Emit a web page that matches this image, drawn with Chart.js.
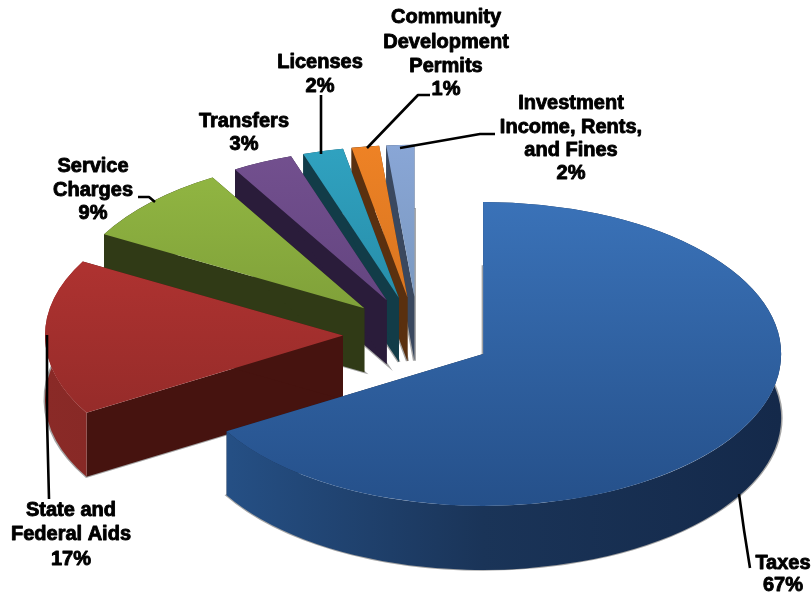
<!DOCTYPE html>
<html>
<head>
<meta charset="utf-8">
<title>Revenue by source</title>
<script src="https://cdn.jsdelivr.net/npm/chart.js@4"></script>
<style>
  html, body { margin: 0; padding: 0; background: #fff; }
  #revenuePie { display: block; filter: blur(0.6px); }
</style>
</head>
<body>
<canvas id="revenuePie" width="812" height="597"></canvas>
<script>
const categories = ['Taxes', 'State and Federal Aids', 'Service Charges', 'Transfers', 'Licenses', 'Community Development Permits', 'Investment Income, Rents, and Fines'];
const shares = [66.5, 16.6, 8.4, 3.3, 2.2, 1.49, 1.51];
const shareLabels = ['67%', '17%', '9%', '3%', '2%', '1%', '2%'];

// slice colours: top surface (far edge, near edge), radial faces, rim (left, middle, right)
const topFar = ['#3a72b8', '#bb3634', '#93b843', '#73508f', '#30a2c0', '#ee8225', '#89a6d6'];
const topNear = ['#25508a', '#8a2826', '#6d8a30', '#553a72', '#1f7a94', '#c4691c', '#6d8cab'];
const faceColors = ['#14253f', '#46130f', '#303a16', '#2a1c3a', '#123c48', '#5a300f', '#3a485f'];
const rimLeft = ['#27548c', '#8a2a27', '#303a16', '#2a1c3a', '#123c48', '#5a300f', '#3a485f'];
const rimMid = ['#1a3458', '#7a2420', '#303a16', '#2a1c3a', '#123c48', '#5a300f', '#3a485f'];
const rimRight = ['#14294a', '#46130f', '#303a16', '#2a1c3a', '#123c48', '#5a300f', '#3a485f'];

// where the tilted pie sits on the page
const PIE_X = 418;
const PIE_Y = 335;
const TILT = 0.51;
const DEPTH = 64;
const RADIUS = 298;
const EXPLODE = 75;

// label text lines, centre x, y of each line
const labelBlocks = [
  { lines: ['Taxes', shareLabels[0]], x: 783, ys: [563, 585] },
  { lines: ['State and', 'Federal Aids', shareLabels[1]], x: 71, ys: [510, 534, 559] },
  { lines: ['Service', 'Charges', shareLabels[2]], x: 93, ys: [166, 190, 213] },
  { lines: ['Transfers', shareLabels[3]], x: 244, ys: [121, 144] },
  { lines: ['Licenses', shareLabels[4]], x: 320, ys: [62, 86] },
  { lines: ['Community', 'Development', 'Permits', shareLabels[5]], x: 446, ys: [17, 42, 66, 89] },
  { lines: ['Investment', 'Income, Rents,', 'and Fines', shareLabels[6]], x: 571, ys: [103, 127, 150, 173] }
];

const leaderLines = [
  [[739, 494], [744, 530], [750, 568]],
  [[47, 335], [47, 419], [49, 499]],
  [[138, 197], [149, 197], [155, 202]],
  [[321, 95], [321, 154]],
  [[430, 95], [418, 95], [367, 148]],
  [[495, 134], [480, 134], [400, 148]]
];

// side walls of one slice, drawn in the already shifted and squashed space
function drawWall(ctx, arc, i) {
  const { x, y, startAngle, endAngle, outerRadius: r } = arc;
  const d = DEPTH / TILT;

  // grey fringe along the underside, the walls cover all but its outer half
  ctx.strokeStyle = 'rgba(125,125,125,0.7)';
  ctx.lineWidth = 3;
  ctx.beginPath();
  ctx.moveTo(x, y + d);
  ctx.arc(x, y + d, r, startAngle, endAngle);
  ctx.closePath();
  ctx.stroke();

  // the two straight cut faces
  ctx.fillStyle = faceColors[i];
  [startAngle, endAngle].forEach((a) => {
    const ex = x + Math.cos(a) * r;
    const ey = y + Math.sin(a) * r;
    ctx.beginPath();
    ctx.moveTo(x, y);
    ctx.lineTo(ex, ey);
    ctx.lineTo(ex, ey + d);
    ctx.lineTo(x, y + d);
    ctx.closePath();
    ctx.fill();
  });

  // curved rim
  const grad = ctx.createLinearGradient(x - r, 0, x + r, 0);
  grad.addColorStop(0, rimLeft[i]);
  grad.addColorStop(0.5, rimMid[i]);
  grad.addColorStop(1, rimRight[i]);
  ctx.fillStyle = grad;
  ctx.beginPath();
  ctx.arc(x, y, r, startAngle, endAngle);
  ctx.arc(x, y + d, r, endAngle, startAngle, true);
  ctx.closePath();
  ctx.fill();
}

const tiltedPie = {
  id: 'tiltedPie',
  beforeDatasetDraw(chart, args) {
    const ctx = chart.ctx;
    const arcs = args.meta.data;
    ctx.save();
    ctx.translate(PIE_X, PIE_Y);
    ctx.scale(1, TILT);
    ctx.translate(-arcs[0].x, -arcs[0].y);
    // back slices first, taxes last
    for (let i = arcs.length - 1; i >= 0; i--) {
      const mid = (arcs[i].startAngle + arcs[i].endAngle) / 2;
      ctx.save();
      ctx.translate(Math.cos(mid) * EXPLODE, Math.sin(mid) * EXPLODE);
      drawWall(ctx, arcs[i], i);
      arcs[i].draw(ctx);
      ctx.restore();
    }
    ctx.restore();
    return false;
  }
};

const pieLabels = {
  id: 'pieLabels',
  afterDraw(chart) {
    const ctx = chart.ctx;
    ctx.save();
    ctx.strokeStyle = '#000';
    ctx.lineWidth = 2.6;
    ctx.lineJoin = 'round';
    leaderLines.forEach((pts) => {
      ctx.beginPath();
      pts.forEach((p, n) => n ? ctx.lineTo(p[0], p[1]) : ctx.moveTo(p[0], p[1]));
      ctx.stroke();
    });
    ctx.font = 'bold 20px "Liberation Sans", Arial, sans-serif';
    ctx.textAlign = 'center';
    ctx.textBaseline = 'middle';
    ctx.fillStyle = '#000';
    ctx.lineWidth = 0.9;
    labelBlocks.forEach((b) => {
      b.lines.forEach((line, n) => {
        ctx.fillText(line, b.x, b.ys[n]);
        ctx.strokeText(line, b.x, b.ys[n]);
      });
    });
    ctx.restore();
  }
};

new Chart(document.getElementById('revenuePie'), {
  type: 'pie',
  data: {
    labels: categories,
    datasets: [{
      data: shares,
      radius: RADIUS,
      borderWidth: 0,
      clip: false,
      backgroundColor(c) {
        const y = c.chart.chartArea ? (c.chart.chartArea.top + c.chart.chartArea.bottom) / 2 : 298;
        const g = c.chart.ctx.createLinearGradient(0, y - RADIUS, 0, y + RADIUS);
        g.addColorStop(0, topFar[c.dataIndex]);
        g.addColorStop(1, topNear[c.dataIndex]);
        return g;
      }
    }]
  },
  options: {
    responsive: false,
    animation: false,
    layout: { padding: 0 },
    plugins: {
      legend: { display: false },
      tooltip: { enabled: false }
    }
  },
  plugins: [tiltedPie, pieLabels]
});
</script>
</body>
</html>
